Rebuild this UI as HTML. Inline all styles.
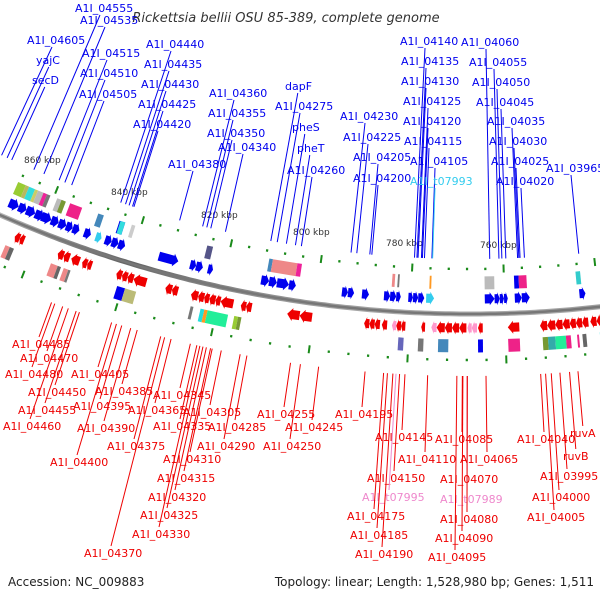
<!DOCTYPE html>
<html><head><meta charset="utf-8"><style>
html,body{margin:0;padding:0;background:#fff;}
svg text{font-family:"DejaVu Sans","Liberation Sans",sans-serif;}
</style></head><body>
<svg id="map" width="600" height="600" viewBox="0 0 600 600" xmlns="http://www.w3.org/2000/svg">
<defs>
<linearGradient id="bb" x1="0" y1="0" x2="0" y2="1"><stop offset="0" stop-color="#bbb"/><stop offset="0.5" stop-color="#666"/><stop offset="1" stop-color="#aaa"/></linearGradient>
</defs>
<text x="286" y="22" text-anchor="middle" font-size="13" font-style="italic" fill="#333">Rickettsia bellii OSU 85-389, complete genome</text>
<text x="8" y="586" font-size="12" fill="#222">Accession: NC_009883</text>
<text x="594" y="586" text-anchor="end" font-size="12" fill="#222">Topology: linear; Length: 1,528,980 bp; Genes: 1,511</text>
<g id="g"></g>
</svg>
<script>
// ---- data ----
const tickKbp = [860, 840, 820, 800, 780, 760, 740];
const tickLabelPos = [[24,163],[111,195],[201,218],[293,235],[386,246],[480,248]];
const fwdGenes = [[868.4,866.2],[866.2,864.4],[864.4,862.4],[862.4,860.4],[860.9,858.7],[858.7,857.0],[857.0,855.3],[855.3,853.8],[853.8,852.3],[851.2,849.7],[846.5,845.0],[845.0,843.5],[843.5,842.0],[834.5,830.2],[827.6,826.3],[826.3,824.8],[823.7,822.6],[812.1,810.4],[810.4,808.7],[808.7,806.1],[806.1,804.6],[794.7,793.4],[793.4,792.1],[790.4,788.9],[785.7,784.4],[784.4,783.1],[783.1,782.1],[780.5,779.5],[779.5,778.4],[778.4,777.1],[764.2,762.1],[762.1,761.0],[761.0,760.1],[760.1,759.3],[757.8,756.3],[756.3,754.6],[744.0,742.7]];
const fwdRna = [[848.6,847.3],[776.7,775.0]];
const revGenes = [[864.5,863.4],[863.4,862.4],[854.9,853.6],[853.6,852.3],[851.9,850.1],[849.5,848.4],[848.4,847.4],[842.0,840.8],[840.8,839.6],[839.6,838.3],[838.3,835.5],[831.4,830.0],[830.0,828.7],[825.9,824.4],[824.4,823.1],[823.1,822.0],[822.0,820.7],[820.7,819.6],[819.6,816.9],[815.3,814.2],[814.2,813.0],[805.5,802.9],[802.9,800.3],[789.4,788.3],[788.3,787.2],[787.2,786.1],[785.7,784.6],[782.7,781.7],[781.7,780.8],[777.5,776.7],[774.3,772.6],[772.6,771.1],[771.1,769.6],[769.6,768.1],[765.7,764.7],[759.5,757.1],[752.8,751.3],[751.3,749.6],[749.6,748.1],[748.1,746.6],[746.6,745.3],[745.3,744.0],[744.0,742.7],[742.3,741.0],[741.0,739.5]];
const revRna = [[783.6,782.7],[775.4,774.3],[767.9,767.0],[767.0,765.9]];
const fwdBoxes = [[868.4,866.6,"#99cc33"],[866.6,865.8,"#b8b860"],[865.8,864.4,"#33dddd"],[864.4,863.7,"#cccc66"],[863.7,861.6,"#bbbbbb"],[862.4,861.6,"#ee2299"],[861.6,860.8,"#777777"],[859.2,857.6,"#bbbbbb"],[858.2,857.2,"#779933"],[856.2,853.4,"#ee2288"],[849.7,848.4,"#4488bb"],[844.8,843.5,"#0000ee"],[844.6,843.5,"#33dddd"],[842.0,841.2,"#cccccc"],[825.0,823.7,"#555588"],[811.2,810.4,"#4488bb"],[810.4,805.0,"#ee8888"],[805.0,804.0,"#ee2299"],[784.2,783.6,"#ee8888"],[783.0,782.6,"#777777"],[776.1,775.7,"#ff9922"],[764.2,762.1,"#bbbbbb"],[757.8,756.8,"#0000ee"],[756.8,755.1,"#ee2288"],[744.4,743.4,"#33cccc"]];
const revBoxes = [[865.6,864.6,"#ee8888"],[864.6,863.7,"#666666"],[855.5,854.0,"#ee8888"],[854.0,853.3,"#666666"],[852.7,851.7,"#ee8888"],[851.7,851.2,"#777777"],[841.1,839.4,"#0000ee"],[839.4,837.0,"#bbbb77"],[825.4,824.8,"#777777"],[823.3,822.5,"#22dddd"],[822.5,821.8,"#ff9922"],[821.8,817.5,"#22ee99"],[816.2,815.4,"#99cc33"],[815.4,814.7,"#779933"],[782.1,781.0,"#6666bb"],[778.0,776.9,"#777777"],[773.9,771.8,"#4488bb"],[765.7,764.7,"#0000ee"],[759.5,757.1,"#ee2288"],[752.4,751.3,"#779933"],[751.3,749.8,"#33aaaa"],[749.8,747.6,"#22ee99"],[747.6,746.6,"#ee2288"],[745.3,744.9,"#ee2288"],[744.2,743.4,"#666666"],[740.6,739.5,"#33dddd"]];
const fwdLabels = [["A1I_04555",75,8],["A1I_04535",80,20],["A1I_04605",27,40],["yajC",36,60],["secD",32,80],["A1I_04515",82,53],["A1I_04510",80,73],["A1I_04505",79,94],["A1I_04440",146,44],["A1I_04435",144,64],["A1I_04430",141,84],["A1I_04425",138,104],["A1I_04420",133,124],["A1I_04380",168,164],["A1I_04360",209,93],["A1I_04355",208,113],["A1I_04350",207,133],["A1I_04340",218,147],["dapF",285,86],["A1I_04275",275,106],["pheS",292,127],["pheT",297,148],["A1I_04260",287,170],["A1I_04230",340,116],["A1I_04225",343,137],["A1I_04205",353,157],["A1I_04200",353,178],["A1I_04140",400,41],["A1I_04135",401,61],["A1I_04130",401,81],["A1I_04125",403,101],["A1I_04120",403,121],["A1I_04115",404,141],["A1I_04105",410,161],["A1I_t07993",410,181],["A1I_04060",461,42],["A1I_04055",469,62],["A1I_04050",472,82],["A1I_04045",476,102],["A1I_04035",487,121],["A1I_04030",489,141],["A1I_04025",491,161],["A1I_04020",496,181],["A1I_03965",546,168]];
const revLabels = [["A1I_04485",12,344],["A1I_04470",20,358],["A1I_04480",5,374],["A1I_04450",28,392],["A1I_04455",18,410],["A1I_04460",3,426],["A1I_04405",71,374],["A1I_04395",73,406],["A1I_04390",77,428],["A1I_04385",95,391],["A1I_04400",50,462],["A1I_04345",153,395],["A1I_04365",128,410],["A1I_04335",153,426],["A1I_04375",107,446],["A1I_04305",183,412],["A1I_04310",163,459],["A1I_04315",157,478],["A1I_04320",148,497],["A1I_04325",140,515],["A1I_04330",132,534],["A1I_04370",84,553],["A1I_04285",208,427],["A1I_04290",197,446],["A1I_04255",257,414],["A1I_04245",285,427],["A1I_04250",263,446],["A1I_04195",335,414],["A1I_04145",375,437],["A1I_04110",398,459],["A1I_04150",367,478],["A1I_t07995",362,497],["A1I_04175",347,516],["A1I_04185",350,535],["A1I_04190",355,554],["A1I_04085",435,439],["A1I_04065",460,459],["A1I_04070",440,479],["A1I_t07989",440,499],["A1I_04080",440,519],["A1I_04090",435,538],["A1I_04095",428,557],["A1I_04040",517,439],["ruvA",570,433],["ruvB",563,456],["A1I_03995",540,476],["A1I_04000",532,497],["A1I_04005",527,517]];

// ---- geometry ----
const NS="http://www.w3.org/2000/svg";
const CX=470, CY=-851, R=1165;
const g=document.getElementById('g');
function ang(kbp){return 0.030-(kbp-760)*0.00408;}
function angX(x){return Math.asin((x-CX)/R);}
function pt(a,off){const r=R+off;return [CX+r*Math.sin(a),CY+r*Math.cos(a)];}
function mk(tag,attrs){const e=document.createElementNS(NS,tag);for(const k in attrs)e.setAttribute(k,attrs[k]);g.appendChild(e);return e;}
function poly(ps){return ps.map(p=>p[0].toFixed(1)+','+p[1].toFixed(1)).join(' ');}

// backbone
(function(){
  let d='';for(let x=-10;x<=610;x+=5){const a=angX(x);const p=pt(a,0);d+=(d?'L':'M')+p[0].toFixed(1)+','+p[1].toFixed(1);}
  const e=mk('path',{d:d,fill:'none',stroke:'url(#bb)','stroke-width':5});
  
  
  const e2=mk('path',{d:d,fill:'none',stroke:'#777','stroke-width':2.5});
  
  
})();

// scale dots
for(let k=740;k<=870;k+=4){
  const a=ang(k);const long=(k%20===0);
  [-45,46].forEach(off=>{
    const h=long?4:1.2;const p1=pt(a,off-h),p2=pt(a,off+h);
    const e=mk('line',{x1:p1[0],y1:p1[1],x2:p2[0],y2:p2[1],stroke:'#1a8a1a','stroke-width':long?2:2.2});
    
    
  });
}
tickKbp.forEach((k,i)=>{
  if(!tickLabelPos[i])return;
  const t=mk('text',{x:tickLabelPos[i][0],y:tickLabelPos[i][1],'font-size':9,fill:'#333'});
  t.textContent=k+' kbp';
  
  
});

function arrow(s,e,off,h,dirRight,color,name){
  const a1=ang(s),a2=ang(e);
  const span=a2-a1;const head=Math.min(span*0.5,0.0045);
  let ps;
  if(dirRight){const ab=a2-head;ps=[pt(a1,off-h*0.35),pt(ab,off-h*0.35),pt(ab,off-h/2),pt(a2,off),pt(ab,off+h/2),pt(ab,off+h*0.35),pt(a1,off+h*0.35)];}
  else{const ab=a1+head;ps=[pt(a2,off-h*0.35),pt(ab,off-h*0.35),pt(ab,off-h/2),pt(a1,off),pt(ab,off+h/2),pt(ab,off+h*0.35),pt(a2,off+h*0.35)];}
  const el=mk('polygon',{points:poly(ps),fill:color});
  
  
}
fwdGenes.forEach(d=>arrow(d[0],d[1],-15,13,true,'#0000ee','forward-gene'));
fwdRna.forEach(d=>arrow(d[0],d[1],-15,13,true,'#33ccee','forward-rna'));
revGenes.forEach(d=>arrow(d[0],d[1],14,13,false,'#ee0000','reverse-gene'));
revRna.forEach(d=>arrow(d[0],d[1],14,13,false,'#ff99cc','reverse-rna'));

function box(s,e,off,h,color,name){
  const a1=ang(s),a2=ang(e);
  const ps=[pt(a1,off-h/2),pt(a2,off-h/2),pt(a2,off+h/2),pt(a1,off+h/2)];
  const el=mk('polygon',{points:poly(ps),fill:color});
  
  
}
fwdBoxes.forEach(d=>box(d[0],d[1],-31,13,d[2],'forward-cog-box'));
revBoxes.forEach(d=>box(d[0],d[1],32,13,d[2],'reverse-cog-box'));

// radial leader from a start point to a given arc offset
function radialEnd(sx,sy,off){
  const dx=sx-CX,dy=sy-CY;const L=Math.sqrt(dx*dx+dy*dy);
  return [CX+dx/L*(R+off),CY+dy/L*(R+off)];
}
fwdLabels.forEach(l=>{
  const col=l[0].indexOf('_t')>0?'#33ccee':'#0000ee';
  const w=l[0].length*6.4;
  const sx=l[1]+Math.min(25,w/2),sy=l[2]+7;
  const p=radialEnd(sx,sy,-55);
  const ln=mk('line',{x1:sx,y1:sy,x2:p[0],y2:p[1],stroke:col,'stroke-width':1});
  
  
  const t=mk('text',{x:l[1],y:l[2]+4,'font-size':11,fill:col});
  t.textContent=l[0];
  
  
});
revLabels.forEach(l=>{
  const col=l[0].indexOf('_t')>0?'#ee88cc':'#ee0000';
  const w=l[0].length*6.4;
  const sx=l[1]+Math.min(27,w/2),sy=l[2]-7;
  const p=radialEnd(sx,sy,62);
  const ln=mk('line',{x1:sx,y1:sy,x2:p[0],y2:p[1],stroke:col,'stroke-width':1});
  
  
  const t=mk('text',{x:l[1],y:l[2]+4,'font-size':11,fill:col});
  t.textContent=l[0];
  
  
});
</script>
</body></html>
